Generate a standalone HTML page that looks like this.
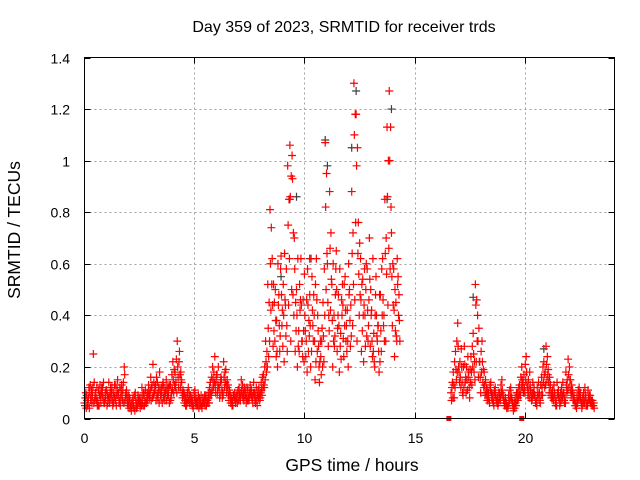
<!DOCTYPE html>
<html><head><meta charset="utf-8"><style>
body{margin:0;background:#fff}
svg{display:block;font-family:"Liberation Sans",sans-serif}
</style></head><body>
<svg id="chart" width="640" height="480" viewBox="0 0 640 480">
<rect width="640" height="480" fill="#fff"/>
<g id="grid"></g>
<g id="pts"></g>
<rect x="84.5" y="57.5" width="530" height="361" fill="none" stroke="#000" stroke-width="1"/>
<g id="ticks"></g>
<text x="344" y="32" font-size="16" text-anchor="middle">Day 359 of 2023, SRMTID for receiver trds</text>
<text x="352" y="471" font-size="17.5" text-anchor="middle">GPS time / hours</text>
<text transform="translate(20,230) rotate(-90)" font-size="17.5" text-anchor="middle">SRMTID / TECUs</text>
</svg>
<script>
const xTicks=[0,5,10,15,20];
const yTicks=[0,0.2,0.4,0.6,0.8,1,1.2,1.4];
const yTickLabels=["0","0.2","0.4","0.6","0.8","1","1.2","1.4"];
const stepHours=0.1;
const seriesA=[0.06,0.09,0.12,0.08,0.25,0.10,0.07,0.13,0.09,0.06,0.11,0.14,0.08,0.10,0.07,0.15,0.12,0.09,0.20,0.11,
0.06,0.04,0.08,0.10,0.05,0.07,0.12,0.09,0.06,0.13,0.16,0.21,0.11,0.14,0.18,0.10,0.12,0.15,0.09,0.13,
0.22,0.18,0.30,0.26,0.14,0.10,0.08,0.12,0.09,0.07,0.11,0.06,0.08,0.05,0.07,0.09,0.10,0.14,0.20,0.24,
0.17,0.12,0.15,0.22,0.19,0.13,0.09,0.07,0.10,0.08,0.12,0.15,0.10,0.09,0.11,0.13,0.08,0.10,0.07,0.12,
0.14,0.17,0.30,0.52,0.81,0.62,0.45,0.38,0.48,0.63,0.52,0.44,0.98,1.06,1.02,0.70,0.50,0.34,0.62,0.46,
0.34,0.58,0.48,0.55,0.40,0.62,0.28,0.24,0.45,1.07,0.60,0.88,0.52,0.40,0.65,0.48,0.33,0.44,0.55,0.42,
0.50,0.88,1.30,1.18,0.76,0.62,0.54,0.40,0.58,0.70,0.42,0.33,0.55,0.36,0.48,0.62,0.85,1.13,1.27,0.72,0.58,0.45,0.55,
null,null,null,null,null,null,null,null,null,null,null,null,null,null,null,null,null,null,null,null,null,null,null,
0.10,0.18,0.26,0.37,0.22,0.14,0.28,0.20,0.16,0.24,0.33,0.52,0.40,0.22,0.30,0.18,0.12,0.10,0.14,0.09,0.12,0.08,0.10,0.15,0.07,0.06,0.09,0.12,0.05,0.08,0.10,0.13,0.20,0.17,0.24,0.15,0.11,0.14,0.09,0.12,0.10,0.16,0.22,0.28,0.19,0.13,0.11,0.09,0.14,0.08,0.12,0.10,0.18,0.23,0.15,0.11,0.07,0.09,0.12,0.06,0.10,0.08,0.11,0.09,0.07];
const seriesB=[0.05,0.07,0.04,0.11,0.06,0.08,0.05,0.09,0.12,0.07,0.05,0.08,0.10,0.06,0.13,0.09,0.05,0.07,0.17,0.08,
0.04,0.03,0.05,0.07,0.09,0.04,0.06,0.05,0.08,0.10,0.07,0.09,0.13,0.08,0.11,0.06,0.09,0.07,0.12,0.08,
0.15,0.12,0.20,0.17,0.10,0.06,0.05,0.07,0.06,0.04,0.06,0.05,0.07,0.04,0.06,0.05,0.08,0.10,0.15,0.13,
0.10,0.08,0.11,0.16,0.13,0.09,0.06,0.05,0.07,0.06,0.09,0.11,0.07,0.06,0.08,0.10,0.06,0.07,0.05,0.09,
0.11,0.13,0.22,0.35,0.60,0.44,0.30,0.26,0.36,0.48,0.40,0.32,0.75,0.86,0.93,0.58,0.40,0.26,0.44,0.34,
0.24,0.44,0.36,0.42,0.30,0.46,0.20,0.17,0.32,0.82,0.45,0.66,0.38,0.28,0.50,0.36,0.23,0.31,0.42,0.30,
0.38,0.64,1.10,0.98,0.56,0.46,0.40,0.28,0.42,0.54,0.30,0.22,0.40,0.26,0.34,0.46,0.64,0.86,1.00,0.55,0.42,0.32,0.40,
null,null,null,null,null,null,null,null,null,null,null,null,null,null,null,null,null,null,null,null,null,null,null,
0.07,0.13,0.19,0.28,0.16,0.10,0.21,0.15,0.12,0.18,0.25,0.44,0.30,0.16,0.22,0.13,0.09,0.07,0.10,0.06,0.09,0.05,0.07,0.11,0.05,0.04,0.06,0.09,0.03,0.06,0.07,0.10,0.15,0.12,0.18,0.11,0.08,0.10,0.06,0.09,0.07,0.12,0.17,0.21,0.14,0.09,0.08,0.06,0.10,0.05,0.09,0.07,0.13,0.17,0.11,0.08,0.05,0.06,0.09,0.04,0.07,0.05,0.08,0.06,0.05];
const seriesC=[0.08,0.05,0.10,0.06,0.14,0.07,0.11,0.06,0.08,0.10,0.09,0.06,0.12,0.08,0.05,0.10,0.08,0.11,0.07,0.06,
0.08,0.06,0.04,0.05,0.07,0.06,0.09,0.07,0.10,0.08,0.12,0.14,0.07,0.10,0.09,0.13,0.07,0.11,0.06,0.10,
0.10,0.14,0.16,0.12,0.08,0.09,0.06,0.10,0.07,0.05,0.08,0.07,0.05,0.06,0.09,0.07,0.06,0.09,0.12,0.10,
0.13,0.09,0.08,0.12,0.10,0.07,0.08,0.09,0.06,0.10,0.08,0.09,0.12,0.08,0.07,0.09,0.10,0.06,0.09,0.07,
0.09,0.12,0.18,0.24,0.42,0.28,0.50,0.20,0.26,0.36,0.22,0.58,0.44,0.30,0.48,0.26,0.20,0.52,0.30,0.22,
0.30,0.26,0.20,0.36,0.15,0.26,0.14,0.30,0.22,0.50,0.28,0.42,0.20,0.32,0.26,0.18,0.46,0.24,0.30,0.20,
0.28,0.36,0.46,0.30,0.40,0.26,0.22,0.50,0.30,0.28,0.24,0.20,0.32,0.18,0.26,0.36,0.30,0.44,0.58,0.36,0.24,0.30,0.48,
null,null,null,null,null,null,null,null,null,null,null,null,null,null,null,null,null,null,null,null,null,null,null,
0.12,0.08,0.15,0.20,0.12,0.09,0.14,0.11,0.08,0.13,0.18,0.22,0.16,0.10,0.14,0.09,0.07,0.06,0.08,0.05,0.07,0.06,0.08,0.09,0.06,0.05,0.07,0.08,0.04,0.05,0.08,0.09,0.12,0.10,0.13,0.08,0.07,0.09,0.06,0.08,0.06,0.09,0.12,0.15,0.10,0.08,0.07,0.05,0.09,0.06,0.08,0.06,0.10,0.12,0.09,0.07,0.05,0.07,0.08,0.05,0.06,0.05,0.07,0.06,0.05];
const seriesD=[0.10,0.06,0.13,0.09,0.07,0.12,0.05,0.10,0.14,0.08,0.06,0.10,0.07,0.13,0.09,0.06,0.11,0.14,0.09,0.05,
0.07,0.05,0.09,0.04,0.06,0.08,0.05,0.11,0.07,0.09,0.13,0.10,0.16,0.12,0.08,0.14,0.10,0.09,0.13,0.17,
0.19,0.23,0.12,0.18,0.11,0.07,0.10,0.06,0.08,0.10,0.05,0.09,0.06,0.08,0.05,0.07,0.12,0.16,0.18,0.15,
0.20,0.14,0.10,0.18,0.15,0.11,0.07,0.09,0.08,0.11,0.07,0.13,0.09,0.12,0.08,0.11,0.14,0.09,0.11,0.08,
0.16,0.20,0.26,0.45,0.74,0.52,0.38,0.60,0.32,0.42,0.64,0.36,0.85,0.94,0.72,0.45,0.62,0.42,0.30,0.56,
0.46,0.38,0.62,0.30,0.52,0.40,0.22,0.35,0.58,0.95,0.40,0.72,0.60,0.48,0.35,0.58,0.40,0.52,0.36,0.60,
0.44,0.72,1.18,1.05,0.68,0.52,0.44,0.60,0.36,0.50,0.62,0.40,0.30,0.48,0.58,0.40,0.70,1.00,1.13,0.60,0.50,0.62,0.38,
null,null,null,null,null,null,null,null,null,null,null,null,null,null,null,null,null,null,null,null,null,null,null,
0.14,0.22,0.30,0.18,0.27,0.20,0.16,0.24,0.19,0.28,0.22,0.46,0.35,0.26,0.19,0.15,0.11,0.13,0.09,0.11,0.07,0.10,0.13,0.09,0.08,0.05,0.11,0.07,0.06,0.10,0.12,0.16,0.14,0.21,0.12,0.18,0.10,0.12,0.07,0.14,0.13,0.20,0.18,0.24,0.16,0.10,0.13,0.07,0.11,0.10,0.14,0.08,0.15,0.20,0.13,0.09,0.06,0.11,0.10,0.08,0.12,0.06,0.09,0.07,0.06];
const seriesE=[0.04,0.08,0.07,0.12,0.09,0.05,0.09,0.12,0.06,0.11,0.08,0.12,0.05,0.09,0.11,0.07,0.13,0.06,0.10,0.09,
0.05,0.07,0.03,0.06,0.08,0.05,0.10,0.06,0.09,0.11,0.08,0.12,0.09,0.06,0.12,0.08,0.11,0.13,0.07,0.11,
0.13,0.10,0.22,0.15,0.09,0.05,0.07,0.08,0.05,0.08,0.07,0.04,0.09,0.06,0.08,0.06,0.09,0.11,0.14,0.17,
0.12,0.16,0.09,0.14,0.12,0.10,0.05,0.08,0.09,0.07,0.10,0.08,0.11,0.07,0.10,0.08,0.09,0.12,0.08,0.10,
0.12,0.15,0.20,0.30,0.52,0.34,0.24,0.44,0.58,0.28,0.46,0.26,0.62,0.50,0.40,0.34,0.28,0.46,0.24,0.40,
0.18,0.32,0.26,0.48,0.22,0.34,0.30,0.20,0.40,0.64,0.34,0.54,0.30,0.58,0.40,0.28,0.52,0.36,0.26,0.48,
0.32,0.52,0.76,0.64,0.48,0.34,0.58,0.32,0.46,0.40,0.26,0.48,0.36,0.22,0.40,0.30,0.56,0.66,0.82,0.44,0.34,0.52,0.30,
null,null,null,null,null,null,null,null,null,null,null,null,null,null,null,null,null,null,null,null,null,null,null,
0.08,0.12,0.18,0.14,0.20,0.12,0.10,0.18,0.14,0.20,0.15,0.30,0.22,0.18,0.12,0.10,0.08,0.11,0.07,0.09,0.06,0.08,0.10,0.07,0.05,0.04,0.08,0.06,0.04,0.07,0.09,0.12,0.10,0.15,0.09,0.13,0.08,0.09,0.05,0.10,0.09,0.14,0.13,0.17,0.12,0.08,0.10,0.05,0.08,0.07,0.10,0.06,0.11,0.15,0.10,0.07,0.04,0.08,0.07,0.06,0.09,0.05,0.07,0.05,0.04];
const grayTimes=[9.3,9.6,10.9,11.0,12.1,12.3,13.7,13.9,17.6,20.8,8.9,10.2];
const grayValues=[0.85,0.86,1.08,0.98,1.05,1.27,0.85,1.20,0.47,0.27,0.55,0.62];
const markerTimes=[16.5,19.8];
const markerValues=[0,0];

const NS="http://www.w3.org/2000/svg";
const X0=84.5,X1=614.5,Y0=418.5,Y1=57.5;
const xS=h=>X0+h/24*(X1-X0);
const yS=v=>Y0-v/1.4*(Y0-Y1);
function mk(tag,attrs,parent){const e=document.createElementNS(NS,tag);for(const k in attrs)e.setAttribute(k,attrs[k]);parent.appendChild(e);return e;}
const grid=document.getElementById('grid'),ticks=document.getElementById('ticks'),pts=document.getElementById('pts');
xTicks.forEach(t=>{
  const x=Math.round(xS(t))-0.5;
  if(t>0){const g=mk('line',{x1:x,x2:x,y1:Y1,y2:Y0,stroke:'#a0a0a0','stroke-dasharray':'2,3'},grid);
  
  }
  const tk=mk('path',{d:`M${x},${Y0}v-6M${x},${Y1}v6`,stroke:'#000'},ticks);
  
  
  const lb=mk('text',{x:x,y:443,'font-size':14,'text-anchor':'middle'},ticks);
  lb.textContent=String(t);
  
  
});
yTicks.forEach((t,i)=>{
  const y=Math.round(yS(t))+0.5;
  if(t>0&&t<1.4){const g=mk('line',{x1:X0,x2:X1,y1:y,y2:y,stroke:'#a0a0a0','stroke-dasharray':'2,3'},grid);
  
  }
  const tk=mk('path',{d:`M${X0},${y}h6M${X1},${y}h-6`,stroke:'#000'},ticks);
  
  
  const lb=mk('text',{x:70,y:y+5,'font-size':14,'text-anchor':'end'},ticks);
  lb.textContent=yTickLabels[i];
  
  
});
function plus(h,v,color,name){
  const x=xS(h),y=yS(v);
  const p=mk('path',{d:`M${x-4},${y}h8M${x},${y-4}v8`,stroke:color,'stroke-width':1.2,fill:'none'},pts);
  
  
}
grayTimes.forEach((h,i)=>plus(h,grayValues[i],'#404040','gray-point'));
[[seriesA,0],[seriesB,0.02],[seriesC,0.04],[seriesD,0.06],[seriesE,0.08]].forEach(([arr,off])=>{
  arr.forEach((v,i)=>{if(v!==null)plus(i*stepHours+off,v,'#ff0000','red-point');});
});
markerTimes.forEach((h,i)=>{
  const r=mk('rect',{x:xS(h)-2.5,y:yS(markerValues[i])-2.5,width:5,height:5,fill:'#ff0000'},pts);
  
  
});
</script>
</body></html>
